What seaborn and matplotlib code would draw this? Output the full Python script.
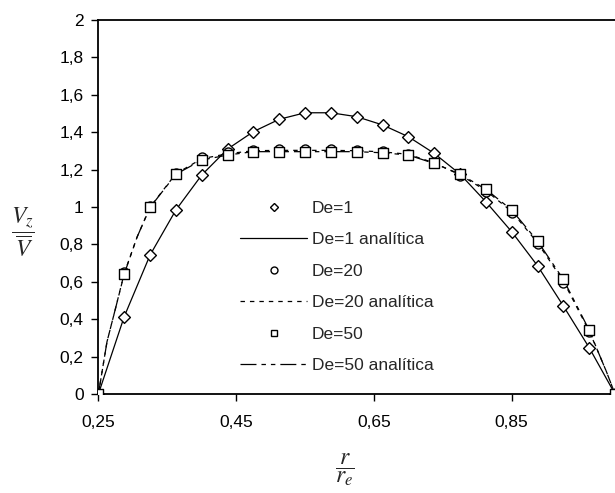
import matplotlib
matplotlib.use("Agg")
import matplotlib.pyplot as plt
import seaborn as sns
from matplotlib.ticker import FuncFormatter
from matplotlib.lines import Line2D

# Radial positions (r / r_e) of the numerical solution
r_num = [0.25, 0.2875, 0.325, 0.3625, 0.4, 0.4375, 0.475, 0.5125, 0.55, 0.5875,
         0.625, 0.6625, 0.7, 0.7375, 0.775, 0.8125, 0.85, 0.8875, 0.925, 0.9625, 1.0]

# Numerical velocity profiles Vz / Vmean
v_de1 = [0.0, 0.414, 0.743, 0.984, 1.171, 1.310, 1.403, 1.469, 1.504, 1.504, 1.483,
         1.439, 1.376, 1.287, 1.176, 1.028, 0.868, 0.686, 0.471, 0.248, 0.0]
v_de20 = [0.0, 0.650, 1.003, 1.182, 1.265, 1.292, 1.307, 1.309, 1.309, 1.309, 1.307,
          1.301, 1.286, 1.240, 1.168, 1.082, 0.968, 0.800, 0.596, 0.330, 0.0]
v_de50 = [0.0, 0.642, 0.998, 1.175, 1.251, 1.278, 1.296, 1.296, 1.296, 1.296, 1.296,
          1.290, 1.278, 1.233, 1.176, 1.095, 0.984, 0.818, 0.613, 0.342, 0.0]

# Analytical profiles
r_an1 = r_num
v_an1 = v_de1
r_an = [0.25, 0.2625, 0.275, 0.2875, 0.30625, 0.325, 0.3625, 0.4, 0.4375, 0.475,
        0.5125, 0.55, 0.5875, 0.625, 0.6625, 0.7, 0.7375, 0.775, 0.8125, 0.85,
        0.8875, 0.925, 0.9625, 0.975, 0.9875, 1.0]
v_an20 = [0.0, 0.28, 0.46, 0.645, 0.84, 1.0, 1.178, 1.258, 1.285, 1.301, 1.303,
          1.303, 1.303, 1.301, 1.295, 1.282, 1.236, 1.172, 1.088, 0.976, 0.809,
          0.604, 0.336, 0.23, 0.12, 0.0]
v_an50 = [0.0, 0.28, 0.46, 0.642, 0.84, 0.998, 1.175, 1.251, 1.278, 1.296, 1.296,
          1.296, 1.296, 1.296, 1.290, 1.278, 1.233, 1.176, 1.095, 0.984, 0.818,
          0.613, 0.342, 0.23, 0.12, 0.0]

y_ticks = [0, 0.2, 0.4, 0.6, 0.8, 1.0, 1.2, 1.4, 1.6, 1.8, 2.0]
x_ticks = [0.25, 0.45, 0.65, 0.85]

sns.set_theme(style="ticks")
plt.rcParams["font.family"] = ["Liberation Sans", "DejaVu Sans"]
plt.rcParams["mathtext.fontset"] = "stix"
plt.rcParams["lines.scale_dashes"] = False

fig = plt.figure(figsize=(6.15, 4.93), dpi=100)
ax = fig.add_axes([0.16, 0.2008, 0.84, 0.7586])

lw = 0.9
style_dot = (0, (3.2, 3.6))
style_dd = (0, (11.5, 3.6, 3.2, 3.6, 3.2, 3.6))

# analytical curves
sns.lineplot(x=r_an1, y=v_an1, ax=ax, color="black", linewidth=lw, zorder=2,
             sort=False, estimator=None)
sns.lineplot(x=r_an, y=v_an20, ax=ax, color="black", linewidth=lw, zorder=2,
             sort=False, estimator=None)
ax.lines[-1].set_linestyle(style_dot)
sns.lineplot(x=r_an, y=v_an50, ax=ax, color="black", linewidth=lw, zorder=2,
             sort=False, estimator=None)
ax.lines[-1].set_linestyle(style_dd)

# numerical points
sns.scatterplot(x=r_num, y=v_de1, ax=ax, marker="D", s=36, facecolor="white",
                edgecolor="black", linewidth=1.0, zorder=3)
sns.scatterplot(x=r_num, y=v_de20, ax=ax, marker="o", s=42, facecolor="white",
                edgecolor="black", linewidth=1.0, zorder=3)
sns.scatterplot(x=r_num, y=v_de50, ax=ax, marker="s", s=50, facecolor="white",
                edgecolor="black", linewidth=1.0, zorder=4)

ax.set_xlim(0.25, 1.0)
ax.set_ylim(0, 2)
ax.set_xticks(x_ticks)
ax.set_yticks(y_ticks)
ax.xaxis.set_major_formatter(FuncFormatter(lambda v, p: f"{v:.2f}".replace(".", ",")))
ax.yaxis.set_major_formatter(FuncFormatter(
    lambda v, p: (f"{v:.0f}" if abs(v - round(v)) < 1e-9 else f"{v:.1f}").replace(".", ",")))
ax.tick_params(axis="both", direction="out", length=5, width=1.0, labelsize=12.5,
               colors="black")
ax.tick_params(axis="x", pad=10)
ax.tick_params(axis="y", pad=5.5)
for side in ["left", "bottom", "top"]:
    ax.spines[side].set_visible(True)
    ax.spines[side].set_linewidth(1.3)
    ax.spines[side].set_color("black")
ax.spines["right"].set_visible(False)
ax.set_xlabel("")
ax.set_ylabel("")

handles = [
    Line2D([], [], linestyle="none", marker="D", markersize=4.5, markerfacecolor="white",
           markeredgecolor="black", markeredgewidth=1.0),
    Line2D([], [], color="black", linewidth=lw),
    Line2D([], [], linestyle="none", marker="o", markersize=5, markerfacecolor="white",
           markeredgecolor="black", markeredgewidth=1.0),
    Line2D([], [], color="black", linewidth=lw, linestyle=style_dot),
    Line2D([], [], linestyle="none", marker="s", markersize=5, markerfacecolor="white",
           markeredgecolor="black", markeredgewidth=1.0),
    Line2D([], [], color="black", linewidth=lw, linestyle=style_dd),
]
labels = ["De=1", "De=1 analítica", "De=20", "De=20 analítica", "De=50",
          "De=50 analítica"]
ax.legend(handles, labels, loc="upper left", bbox_to_anchor=(0.261, 0.535),
          frameon=False, fontsize=12.5, handlelength=3.85, handletextpad=0.29,
          labelspacing=0.94, borderaxespad=0)

fig.text(0.037, 0.529, r"$\dfrac{V_z}{\overline{V}}$", fontsize=17,
         ha="center", va="center")
fig.text(0.561, 0.047, r"$\dfrac{r}{r_e}$", fontsize=17, ha="center", va="center")

fig.savefig("out.png", dpi=100)
